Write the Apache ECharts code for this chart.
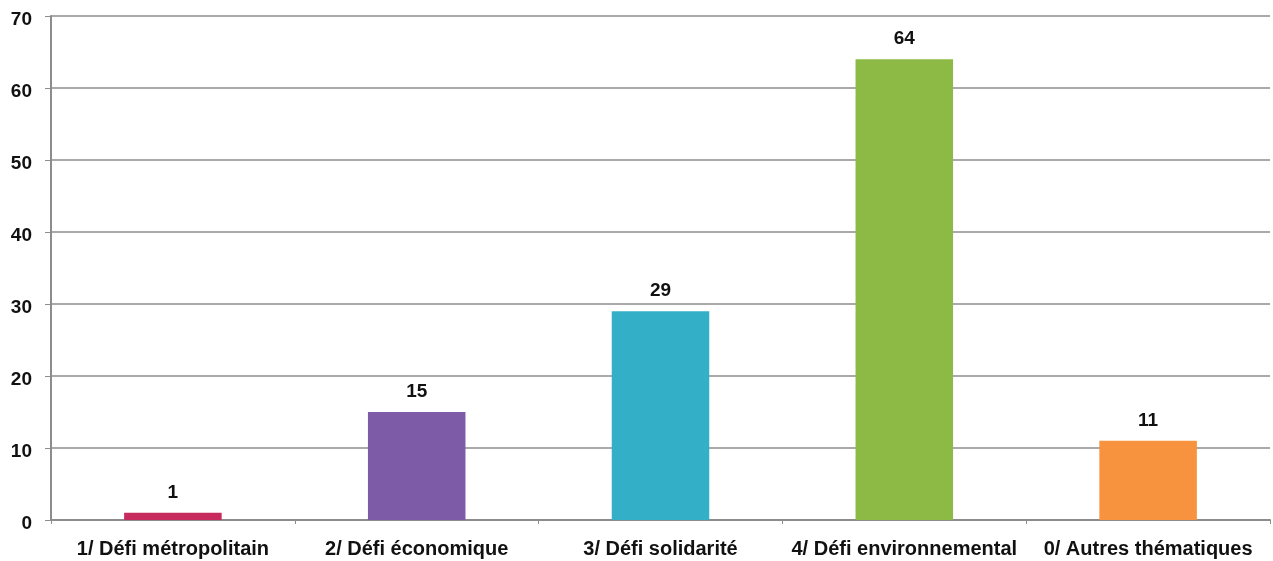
<!DOCTYPE html>
<html>
<head>
<meta charset="utf-8">
<script src="https://cdn.jsdelivr.net/npm/echarts@6/dist/echarts.min.js"></script>
<style>
  html, body { margin: 0; padding: 0; background: #ffffff; }
  #chart { width: 1273px; height: 561px; }
</style>
</head>
<body>
<div id="chart"></div>
<script>
// Number of projects per theme
const categories = [
  '1/ Défi métropolitain',
  '2/ Défi économique',
  '3/ Défi solidarité',
  '4/ Défi environnemental',
  '0/ Autres thématiques'
];
const values = [1, 15, 29, 64, 11];
const barColors = ['#C72A5C', '#7D5BA6', '#33B0C8', '#8DBA44', '#F7923E'];
const yTicks = { min: 0, max: 70, interval: 10 };

const chart = echarts.init(document.getElementById('chart'), null, { renderer: 'canvas' });

const fontFamily = '"Liberation Sans", Arial, sans-serif';

chart.setOption({
  animation: false,
  backgroundColor: '#ffffff',
  grid: { left: 51, right: 3, top: 16, bottom: 41, containLabel: false },
  xAxis: {
    type: 'category',
    data: categories,
    axisLine: { show: true, lineStyle: { color: '#8c8c8c', width: 2 } },
    axisTick: { show: true, length: 4, lineStyle: { color: '#8c8c8c', width: 1 } },
    axisLabel: {
      color: '#111111',
      fontFamily: fontFamily,
      fontWeight: 'bold',
      fontSize: 20,
      margin: 19,
      interval: 0
    }
  },
  yAxis: {
    type: 'value',
    min: yTicks.min,
    max: yTicks.max,
    interval: yTicks.interval,
    axisLine: { show: true, lineStyle: { color: '#8c8c8c', width: 2 } },
    axisTick: { show: true, length: 6, lineStyle: { color: '#8c8c8c', width: 1 } },
    splitLine: { show: true, lineStyle: { color: '#8c8c8c', width: 1.5 } },
    axisLabel: {
      color: '#111111',
      fontFamily: fontFamily,
      fontWeight: 'bold',
      fontSize: 19,
      margin: 19,
      verticalAlign: 'top',
      lineHeight: 8
    }
  },
  series: [{
    type: 'bar',
    data: values.map((v, i) => ({ value: v, itemStyle: { color: barColors[i] } })),
    barWidth: '40%',
    label: {
      show: true,
      position: 'top',
      distance: 11,
      color: '#111111',
      fontFamily: fontFamily,
      fontWeight: 'bold',
      fontSize: 19
    }
  }]
});
</script>
</body>
</html>
